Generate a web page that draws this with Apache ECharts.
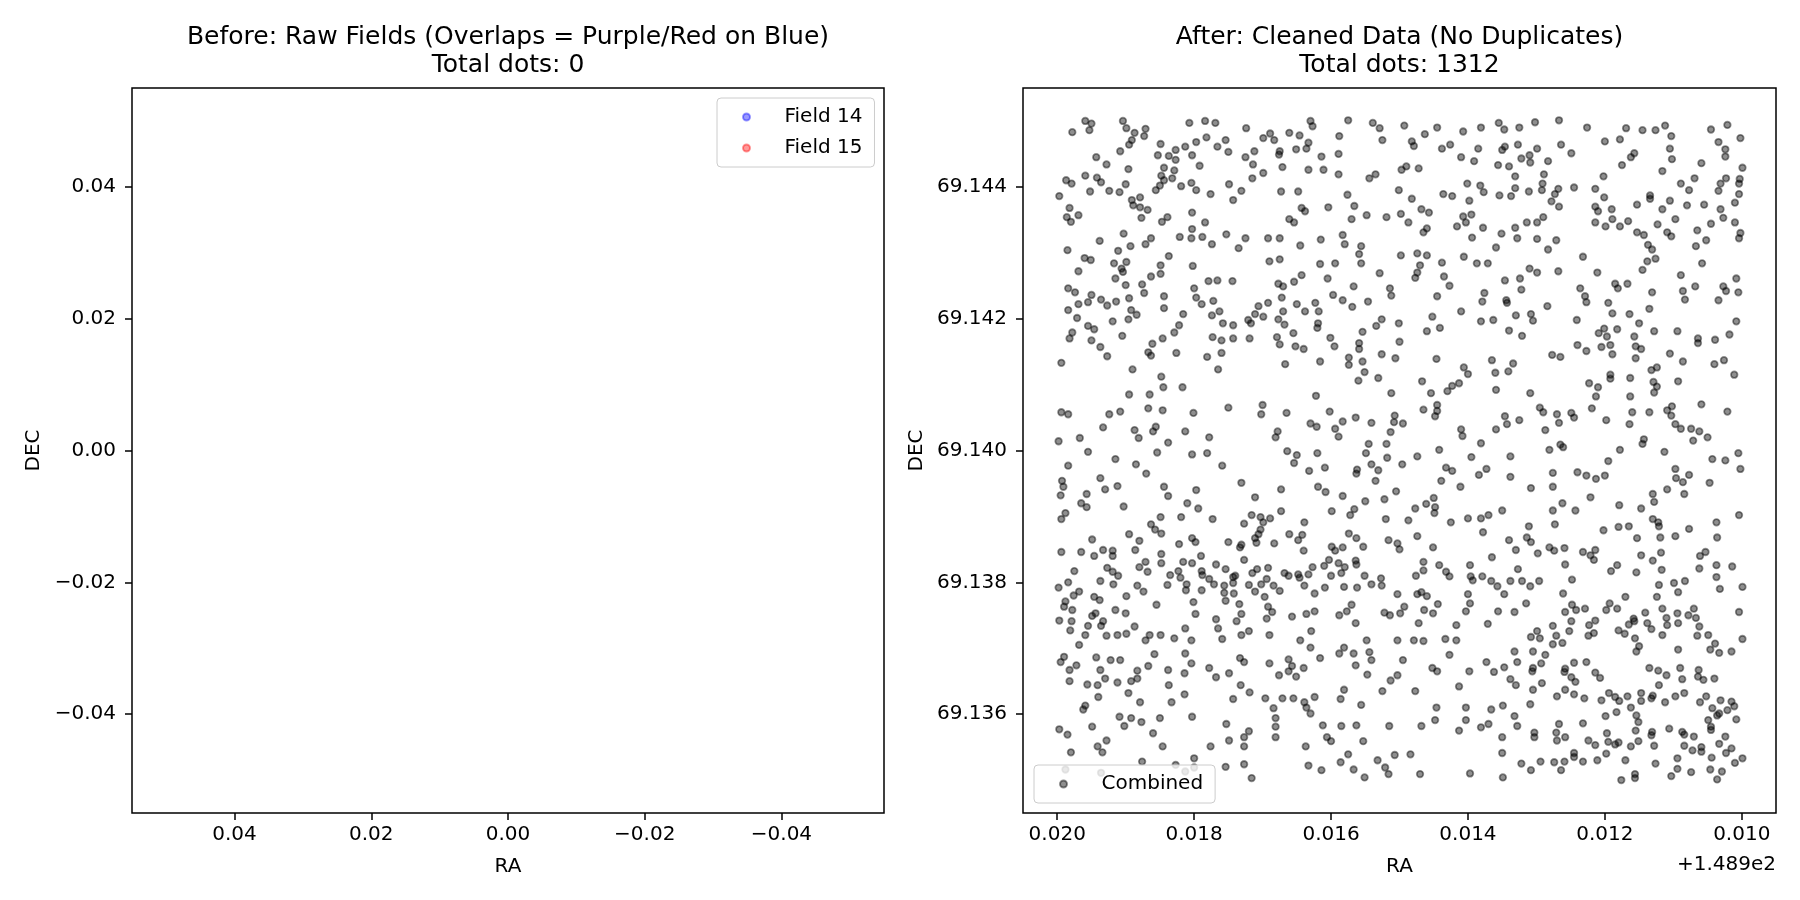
<!DOCTYPE html>
<html lang="en">
<head>
<meta charset="UTF-8">
<title>Raw fields vs cleaned data</title>
<script src="https://cdn.jsdelivr.net/npm/echarts@6/dist/echarts.min.js"></script>
<style>html,body{margin:0;padding:0;background:#fff;}</style>
</head>
<body>
<div id="main" style="width:1800px;height:900px;"></div>
<script>
// combined catalogue. flat pairs: ra, dec, ra, dec ...
// both given as offsets in units of 1e-5 deg from raZero / decZero
var raZero = 148.9, decZero = 69.135, unit = 1e-5;

var upperLeft = [
  1959,1000, 1950,996, 1953,986, 1978,983, 1904,1000, 1899,989, 1887,982, 1871,988, 1873,977, 1891,971, 1895,964, 1807,997,
  1784,1000, 1769,997, 1724,989, 1689,981, 1699,974, 1683,971, 1661,982, 1646,978, 1630,1000, 1627,992, 1575,1001, 1539,997,
  1529,989, 1525,971, 1588,977, 1633,967, 1636,958, 1651,957, 1675,954, 1676,949, 1712,954, 1725,945, 1714,934, 1699,921,
  1715,913, 1671,930, 1633,926, 1611,926, 1589,919, 1589,950, 1614,946, 1544,913, 1535,919,
  1908,954, 1849,965, 1853,948, 1837,947, 1827,956, 1827,941, 1813,961, 1797,968, 1782,975, 1766,961, 1754,971, 1750,953,
  1803,948, 1792,932, 1844,929, 1848,917, 1829,925, 1832,913, 1844,910, 1850,902, 1856,895, 1819,901, 1804,906, 1797,895,
  1776,889, 1749,904, 1731,894, 1743,880, 1896,927, 1943,945, 1928,934, 1959,917, 1942,914, 1936,907, 1987,910, 1979,905,
  1952,893, 1924,894, 1909,892, 1900,904, 1997,886,
  1891,880, 1879,884, 1889,872, 1879,869, 1868,865, 1877,853, 1982,868, 1986,854, 1980,847, 1969,857, 1847,847, 1839,854,
  1803,861, 1784,846, 1803,836, 1821,824, 1804,822, 1788,824, 1774,813, 1753,828, 1725,822, 1735,807, 1692,822, 1675,822,
  1673,893, 1648,893, 1643,868, 1638,863, 1661,851, 1654,846, 1604,869, 1576,888, 1566,871, 1570,851, 1548,857, 1519,854,
  1903,829, 1938,818, 1985,804, 1960,792, 1951,789, 1969,772, 1911,803, 1893,810, 1871,813, 1863,822, 1917,784, 1899,786,
  1906,776, 1904,771, 1915,761, 1900,751, 1849,781, 1849,768, 1863,764, 1837,795, 1802,780, 1690,787, 1675,790, 1645,811,
  1615,820, 1583,827, 1580,813, 1556,810, 1559,798, 1556,784, 1616,783, 1594,784, 1529,769,
  1984,746, 1974,740, 1950,736, 1955,725, 1969,722, 1936,729, 1927,720, 1914,726, 1895,731, 1876,752, 1873,739, 1844,734,
  1800,746, 1797,732, 1779,757, 1766,758, 1744,757, 1789,722, 1772,727, 1763,711, 1774,705, 1758,693, 1743,690, 1816,707,
  1822,690, 1829,679, 1844,716, 1892,713, 1884,706, 1896,699, 1919,696, 1971,701, 1984,713, 1955,689, 1946,684, 1978,679,
  1982,670, 1950,667, 1937,657, 1927,643, 1905,674, 1846,670, 1861,662, 1867,649, 1863,644, 1826,648, 1773,672, 1760,667,
  1743,670, 1719,670, 1760,648, 1781,642, 1765,623,
  1677,753, 1670,749, 1654,756, 1643,766, 1605,761, 1672,732, 1670,711, 1677,699, 1668,691, 1692,724, 1706,719, 1711,707,
  1699,703, 1721,698, 1717,693, 1650,722, 1638,711, 1623,724, 1618,711, 1619,693, 1620,686, 1655,678, 1679,672, 1675,661,
  1652,658, 1640,654, 1601,671, 1595,658, 1597,736, 1583,728, 1567,749, 1569,718, 1546,726, 1514,746, 1512,735, 1526,699,
  1534,689, 1554,680, 1559,663, 1559,654, 1526,646, 1554,635, 1551,619, 1560,606, 1531,610, 1574,641, 1574,630, 1506,640,
  1512,587,
  1994,633, 1890,623, 1848,612, 1845,596, 1817,596, 1895,585, 1865,585, 1667,631, 1616,635, 1622,583,
  1994,558, 1984,555, 1924,555, 1908,559, 1867,564, 1846,561, 1801,557, 1750,565, 1700,569, 1702,555, 1665,557, 1602,559,
  1583,544, 1564,550, 1541,542, 1507,553, 1508,543, 1513,528, 1594,533, 1589,521, 1630,541, 1621,536, 1678,529, 1681,520,
  1813,529, 1778,520, 1838,512, 1856,536, 1860,529, 1887,531, 1881,519, 1933,535, 1998,514, 1967,519, 1545,510, 1519,510
];

var upperRight = [
  1493,993, 1463,980, 1445,990, 1407,984, 1381,990, 1355,997, 1347,987, 1325,990, 1302,998, 1267,1001, 1226,990, 1169,989,
  1145,986, 1126,986, 1112,993, 1103,977, 1045,987, 1021,994, 1002,974, 1034,968, 1024,957, 1024,946, 999,929, 1059,936,
  1116,924, 1105,958, 1102,942, 1157,951, 1162,945, 1175,933, 1178,972, 1200,969, 1202,916,
  1482,969, 1479,962, 1438,958, 1426,964, 1385,958, 1410,945, 1391,939, 1350,956, 1346,961, 1327,964, 1299,958, 1310,948,
  1322,943, 1309,937, 1264,964, 1249,951, 1283,939, 1356,933, 1340,931, 1331,916, 1289,919, 1291,905, 1292,895, 1268,897,
  1273,889, 1278,878, 1267,870, 1245,899, 1214,897, 1201,884, 1214,870, 1210,863, 1190,866, 1214,846, 1199,840, 1189,851,
  1178,840, 1166,848, 1153,873, 1134,887, 1134,882, 1116,866, 1105,879, 1089,905, 1077,895, 1069,913, 1080,872, 1055,873,
  1034,894, 1031,905, 1023,913, 1004,905, 1003,912, 1004,889, 1010,876, 1031,866, 1027,853, 1045,844, 1097,851, 1123,843,
  1109,831, 1103,825, 1065,834, 1052,819, 1067,810, 1010,846, 1002,830, 1004,822,
  1497,926, 1490,931, 1472,928, 1501,895, 1482,882, 1468,866, 1457,861, 1498,859, 1487,846, 1460,837, 1465,831, 1436,889,
  1423,886, 1401,905, 1382,902, 1377,892, 1398,879, 1354,887, 1337,886, 1331,898, 1311,893, 1407,855, 1395,858, 1403,846,
  1416,840, 1378,838, 1394,823, 1351,829, 1331,838, 1328,822, 1314,846, 1299,846, 1290,854, 1299,821, 1271,819, 1283,805,
  1359,808,
  1498,796, 1474,799, 1460,796, 1470,781, 1474,770, 1477,762, 1438,785, 1435,764, 1427,750, 1445,734, 1406,794, 1387,784,
  1371,784, 1310,776, 1299,770, 1268,772, 1232,794, 1211,770, 1346,758, 1324,761, 1322,744, 1376,739, 1379,726, 1344,728,
  1343,724, 1410,711, 1452,703, 1460,681, 1441,686, 1501,693, 1500,665, 1381,696, 1363,698, 1340,682, 1321,674, 1330,705,
  1308,707, 1305,697, 1284,719, 1241,698, 1236,746, 1229,734, 1227,725, 1195,724, 1189,708, 1185,753, 1181,746, 1167,753,
  1145,774, 1138,787, 1126,791, 1131,805, 1137,812, 1153,831, 1143,827, 1164,707, 1150,693, 1135,715, 1131,740, 1128,681,
  1201,685, 1209,678, 1197,673, 1182,684, 1157,673, 1155,658, 1147,654, 1155,640, 1089,766, 1086,742, 1083,729, 1068,749,
  1058,784, 1034,728, 1027,749, 1023,742, 1008,761, 1005,740, 1008,696, 1018,676, 1039,668, 1064,670, 1064,663, 1094,681,
  1105,647, 1086,635, 1040,631, 1026,637, 1011,615,
  1446,639, 1406,626, 1400,616, 1365,637, 1360,618, 1341,620, 1334,632, 1359,592, 1413,602, 1423,598, 1430,590, 1454,587,
  1467,605, 1465,562, 1445,569, 1445,560, 1448,552, 1495,541, 1410,532, 1408,522, 1381,511, 1346,552, 1343,540, 1325,546,
  1359,532, 1309,587, 1295,565, 1290,558, 1270,555, 1267,542, 1249,557, 1245,550, 1219,564, 1198,546, 1287,531, 1265,509,
  1261,505, 1277,645, 1265,642, 1240,660, 1227,651, 1205,657, 1192,660, 1189,646, 1223,602, 1210,596, 1213,582, 1192,615,
  1192,609, 1163,610, 1163,582, 1160,558, 1135,558, 1164,540, 1132,622, 1124,626, 1129,604, 1124,597, 1128,588, 1093,605,
  1102,567, 1109,561, 1103,553, 1097,540, 1089,533, 1074,533, 1062,529, 1050,520, 1071,515, 1059,570, 1021,559, 1143,517,
  1145,510
];

var lowerLeft = [
  1955,498, 1915,487, 1885,479, 1854,497, 1803,494, 1781,496, 1759,477, 1870,465, 1984,477, 1993,454, 1991,445, 1995,432,
  1937,458, 1930,441, 1912,446, 1957,434, 1965,420, 1957,414, 1903,415, 1844,445, 1838,431, 1797,440, 1810,420, 1794,412,
  1731,451, 1711,429, 1673,441, 1664,499, 1650,493, 1654,481, 1632,469, 1620,496, 1609,474, 1619,445, 1608,437, 1583,431,
  1549,496, 1563,465, 1562,471, 1541,479, 1531,470, 1535,454, 1518,489, 1505,438, 1550,423, 1522,426, 1988,405, 1994,396,
  1819,399, 1849,399, 1863,388, 1857,380, 1848,374, 1773,396, 1727,389, 1716,402, 1703,399, 1689,397, 1699,391, 1703,380,
  1706,373, 1711,367, 1709,360, 1673,408, 1639,391, 1599,408, 1572,402, 1566,411, 1520,396, 1949,365, 1895,373, 1880,363,
  1822,358, 1803,367, 1798,361, 1750,361, 1731,357, 1733,353, 1683,359, 1661,373, 1648,364, 1642,372, 1640,348, 1599,354,
  1594,348, 1583,353, 1574,374, 1563,367, 1553,354, 1516,364, 1503,359,
  1994,346, 1965,346, 1946,340, 1933,349, 1919,348, 1919,340, 1886,349, 1848,343, 1848,329, 1790,340, 1727,334, 1871,331,
  1880,323, 1868,316, 1927,322, 1919,316, 1911,310, 1975,317, 1984,300, 1998,292, 1937,302, 1918,297, 1883,295, 1874,286,
  1839,296, 1835,311, 1823,317, 1820,307, 1816,331, 1803,329, 1811,297, 1812,288, 1789,317, 1788,311, 1778,305, 1789,288,
  1768,327, 1754,320, 1771,297, 1756,295, 1756,284, 1743,308, 1740,310, 1743,299, 1742,283, 1754,272, 1734,267, 1731,252,
  1738,241, 1715,314, 1708,320, 1692,322, 1694,305, 1702,297, 1711,286, 1720,296, 1684,295, 1675,287, 1697,278, 1692,263,
  1686,255, 1694,245, 1668,314, 1662,310, 1648,312, 1646,307, 1633,312, 1627,323, 1610,325, 1603,334, 1589,329, 1580,323,
  1564,333, 1563,327, 1585,314, 1600,310, 1551,310, 1541,297, 1527,306, 1526,295, 1562,292, 1581,293, 1609,292, 1624,283,
  1639,295,
  1976,280, 1988,271, 1990,263, 1978,258, 1968,286, 1946,278, 1938,273, 1899,279, 1855,266, 1801,270, 1798,252, 1768,244,
  1765,230, 1759,214, 1900,253, 1915,258, 1949,249, 1944,253, 1933,241, 1936,234, 1979,241, 1997,242, 1981,227, 1955,234,
  1959,220, 1928,219, 1912,220, 1899,222, 1887,233, 1865,220, 1871,212, 1849,220, 1829,215, 1813,230, 1804,212, 1731,220,
  1720,226, 1690,220, 1657,248, 1636,252, 1624,256, 1629,226, 1645,212, 1630,201, 1616,185, 1588,250, 1577,256, 1570,266,
  1564,238, 1522,254, 1514,250, 1503,282, 1503,212, 1588,192, 1581,201, 1567,192, 1564,174, 1548,212, 1544,194, 1541,182,
  1547,160, 1503,159, 1513,151, 1525,135, 1556,114, 1581,137, 1586,123, 1624,126, 1639,118, 1636,110, 1630,101, 1655,124,
  1671,124, 1696,124, 1684,109, 1681,94, 1681,81, 1681,65, 1676,159, 1662,165, 1662,183, 1657,173, 1651,157, 1640,170,
  1690,177, 1733,185, 1727,179, 1768,156, 1778,170, 1749,162, 1732,144, 1719,133, 1743,123,
  1968,205, 1990,187, 1995,179, 1972,174, 1982,167, 1982,150, 1943,186, 1922,182, 1908,182, 1937,167, 1930,154, 1912,148,
  1956,145, 1941,144, 1940,126, 1959,113, 1962,107, 1896,132, 1892,150, 1883,154, 1883,166, 1867,173, 1858,191, 1838,167,
  1837,144, 1814,162, 1813,192, 1804,177, 1833,118, 1814,130, 1879,118, 1892,94, 1902,82, 1909,96, 1877,88, 1850,94,
  1803,96, 1860,71, 1846,51, 1800,33, 1997,77, 1985,69, 1949,81, 1928,60, 1941,51, 1934,42, 1980,42, 1876,28,
  1753,85, 1749,60, 1727,65, 1720,74, 1727,51, 1754,20, 1727,24, 1716,3, 1776,51, 1612,83, 1585,82, 1563,83,
  1515,82, 1606,65, 1600,59, 1553,59, 1637,51, 1575,39, 1586,27, 1567,16, 1551,4, 1532,30, 1521,19, 1516,9,
  1507,38, 1633,22, 1614,15, 1988,16, 1936,11, 1827,23, 1813,13, 1800,19
];

var lowerRight = [
  1496,479, 1474,491, 1442,501, 1395,490, 1338,491, 1281,501, 1195,484, 1178,501, 1113,498, 1043,487, 1024,485, 1005,496,
  1002,472, 1047,451, 1097,472, 1096,458, 1086,452, 1077,463, 1084,434, 1109,441, 1130,434, 1128,422, 1147,412, 1130,396,
  1122,391, 1121,385, 1119,368, 1153,367, 1165,385, 1180,384, 1202,379, 1179,417, 1221,429, 1243,409, 1276,409, 1262,420,
  1273,388, 1276,445, 1276,466, 1240,467, 1227,462, 1213,457, 1200,462, 1308,443, 1338,460, 1373,472, 1384,463, 1432,474,
  1423,469, 1439,454, 1411,445, 1450,428, 1448,414, 1449,405, 1461,419, 1477,412, 1487,394, 1425,391, 1400,397, 1381,397,
  1370,402, 1350,409, 1378,376, 1474,370, 1500,350, 1451,353, 1004,402, 1037,391, 1036,368, 1077,381, 1097,370,
  1311,385, 1314,368, 1308,361, 1340,364, 1330,349, 1298,344, 1281,353, 1274,348, 1259,352, 1232,346, 1221,341, 1214,349,
  1216,334, 1258,327, 1365,338, 1397,326, 1465,331, 1465,318, 1476,310, 1442,326, 1432,316, 1427,309, 1396,309, 1393,303,
  1379,309, 1366,302, 1357,294, 1347,282, 1338,302, 1321,302, 1309,294, 1296,302, 1327,320, 1248,304, 1261,283, 1315,268,
  1332,255, 1356,256, 1371,237, 1403,256, 1397,268, 1400,282, 1444,267, 1451,253, 1464,258, 1472,238, 1474,282, 1468,285,
  1460,279, 1493,263, 1499,253, 1479,212, 1465,211, 1433,214, 1417,212, 1417,235, 1427,190, 1495,182, 1452,170, 1445,165,
  1398,165, 1373,179, 1362,164, 1347,171, 1328,179, 1338,153, 1330,144, 1305,170, 1306,165, 1293,177, 1287,190, 1305,195,
  1332,195, 1477,135, 1413,142, 1446,110, 1448,91, 1468,82, 1413,75, 1403,110, 1403,91, 1381,80, 1370,85, 1366,107,
  1349,113, 1332,97, 1328,82, 1350,65, 1350,41, 1309,115, 1305,137, 1292,147, 1270,127, 1258,137, 1245,130, 1230,124,
  1484,39, 1470,9, 1397,10, 1349,4,
  1191,317, 1182,326, 1147,341, 1154,315, 1130,333, 1118,345, 1117,319, 1248,266, 1258,255, 1242,258, 1229,260, 1249,241,
  1252,226, 1214,242, 1223,235, 1224,219, 1216,223, 1198,258, 1193,268, 1182,260, 1170,278, 1158,245, 1157,241, 1165,236,
  1180,227, 1171,222, 1156,215, 1150,203, 1154,195, 1141,254, 1138,238, 1132,229, 1116,220, 1124,278, 1121,296, 1116,260,
  1110,246, 1109,235, 1099,299, 1093,285, 1083,302, 1094,253, 1093,238, 1078,250, 1070,260, 1067,246, 1062,233, 1065,219,
  1049,220, 1039,207, 1046,198, 1033,193, 1015,195, 999,214, 1004,255, 999,293, 1032,290, 1037,308, 1037,326, 1062,321,
  1061,340, 1053,346, 1014,324, 1093,198,
  1308,217, 1299,226, 1295,215, 1276,206, 1262,208, 1276,234, 1271,219, 1258,169, 1259,164, 1245,178, 1227,179, 1214,163,
  1207,155, 1249,156, 1243,149, 1205,121, 1194,132, 1185,126, 1179,120, 1183,103, 1167,127, 1162,110, 1154,98, 1151,88,
  1155,75, 1147,120, 1147,132, 1135,170, 1122,166, 1110,159, 1121,144, 1132,124, 1130,128, 1112,118, 1090,170, 1087,153,
  1097,127, 1084,132, 1063,167, 1064,157, 1056,152, 1040,154, 1052,127, 1061,118, 1031,121, 1015,119, 1011,112, 1021,106,
  1043,109, 1036,98, 1033,101, 1049,91, 1045,81, 1045,76, 1008,92, 1024,66, 1033,55, 1015,48, 1023,41, 999,33,
  1010,26, 1044,34, 1059,50, 1059,43, 1072,45, 1084,52, 1070,66, 1087,73, 1084,69, 1094,33, 1094,17, 1103,6,
  1074,12, 1046,16, 1029,13, 1036,1, 1106,78, 1126,25, 1128,52, 1131,73, 1132,68, 1151,59, 1162,51, 1170,30,
  1156,9, 1156,3, 1176,0, 1198,40, 1197,71, 1195,58, 1185,54, 1180,57, 1199,97, 1214,53, 1224,60, 1211,30,
  1232,28, 1245,41, 1245,35, 1259,28, 1274,27, 1264,15, 1294,28, 1308,15, 1322,25, 1303,72, 1303,65, 1271,72,
  1270,60, 1258,65, 1267,85, 1232,86
];

// the raw fields panel is empty in the source figure
var field14 = [];
var field15 = [];

var beforeTicks = [-0.04, -0.02, 0, 0.02, 0.04];
var raTicks = [148.910, 148.912, 148.914, 148.916, 148.918, 148.920];
var decTicks = [69.136, 69.138, 69.140, 69.142, 69.144];

var titles = [
  ['Before: Raw Fields (Overlaps = Purple/Red on Blue)', 'Total dots: 0'],
  ['After: Cleaned Data (No Duplicates)', 'Total dots: 1312']
];

function toPoints(flat) {
  var out = [];
  for (var i = 0; i < flat.length; i += 2) {
    out.push([+(raZero + flat[i] * unit).toFixed(5), +(decZero + flat[i + 1] * unit).toFixed(5)]);
  }
  return out;
}

var combined = [].concat(toPoints(upperLeft), toPoints(upperRight), toPoints(lowerLeft), toPoints(lowerRight));

var font = 'DejaVu Sans';
var minus = '\u2212';

function tickStyle(values) {
  return {
    customValues: values,
    length: 7,
    lineStyle: {color: '#000', width: 1.5}
  };
}

function labelStyle(values, fmt, margin) {
  return {
    customValues: values,
    formatter: fmt,
    margin: margin,
    fontSize: 20,
    color: '#000',
    fontFamily: font
  };
}

function fmtSmall(v) {
  return (v < 0 ? minus : '') + Math.abs(v).toFixed(2);
}

var nameStyle = {fontSize: 20, color: '#000', fontFamily: font};
var hiddenLine = {show: false, onZero: false};

var grids = [
  {left: 132, top: 88, width: 752, height: 725},
  {left: 1023, top: 88, width: 753, height: 725}
];
grids.forEach(function (g) {
  g.show = true;
  g.borderColor = '#000';
  g.borderWidth = 1.5;
  g.backgroundColor = '#fff';
  g.containLabel = false;
});

var legendBase = {
  orient: 'vertical',
  backgroundColor: 'rgba(255,255,255,0.8)',
  borderColor: '#cccccc',
  borderWidth: 1,
  borderRadius: 4,
  padding: [9, 12, 9, 25],
  itemWidth: 58,
  itemHeight: 7,
  itemGap: 11,
  selectedMode: false,
  textStyle: {fontSize: 20, color: '#000', fontFamily: font, padding: [0, 0, 0, 4]}
};

var chart = echarts.init(document.getElementById('main'));

var graphics = [];
titles.forEach(function (t, i) {
  var g = grids[i];
  var cx = g.left + g.width / 2;
  t.forEach(function (line, j) {
    graphics.push({
      type: 'text',
      x: cx,
      y: 37 + j * 28,
      style: {text: line, fontSize: 25, fontFamily: font, fill: '#000', align: 'center', verticalAlign: 'middle'}
    });
  });
});
graphics.push({
  type: 'text',
  x: 1776,
  y: 865,
  style: {text: '+1.489e2', fontSize: 20, fontFamily: font, fill: '#000', align: 'right', verticalAlign: 'middle'}
});

chart.setOption({
  animation: false,
  textStyle: {fontFamily: font},
  grid: grids,
  xAxis: [
    {
      gridIndex: 0, type: 'value', min: -0.055, max: 0.055, inverse: true,
      name: 'RA', nameLocation: 'middle', nameGap: 44, nameTextStyle: nameStyle,
      axisLine: hiddenLine, splitLine: {show: false},
      axisTick: tickStyle(beforeTicks),
      axisLabel: labelStyle(beforeTicks, fmtSmall, 12)
    },
    {
      gridIndex: 1, type: 'value', min: 148.9095, max: 148.9205, inverse: true,
      name: 'RA', nameLocation: 'middle', nameGap: 44, nameTextStyle: nameStyle,
      axisLine: hiddenLine, splitLine: {show: false},
      axisTick: tickStyle(raTicks),
      axisLabel: labelStyle(raTicks, function (v) { return (v - raZero).toFixed(3); }, 12)
    }
  ],
  yAxis: [
    {
      gridIndex: 0, type: 'value', min: -0.055, max: 0.055,
      name: 'DEC', nameLocation: 'middle', nameGap: 88, nameTextStyle: nameStyle,
      axisLine: hiddenLine, splitLine: {show: false},
      axisTick: tickStyle(beforeTicks),
      axisLabel: labelStyle(beforeTicks, fmtSmall, 16)
    },
    {
      gridIndex: 1, type: 'value', min: 69.1345, max: 69.1455,
      name: 'DEC', nameLocation: 'middle', nameGap: 96, nameTextStyle: nameStyle,
      axisLine: hiddenLine, splitLine: {show: false},
      axisTick: tickStyle(decTicks),
      axisLabel: labelStyle(decTicks, function (v) { return v.toFixed(3); }, 16)
    }
  ],
  legend: [
    Object.assign({}, legendBase, {data: ['Field 14', 'Field 15'], left: 717, top: 98}),
    Object.assign({}, legendBase, {data: ['Combined'], left: 1034, top: 765})
  ],
  graphic: graphics,
  series: [
    {
      name: 'Field 14', type: 'scatter', xAxisIndex: 0, yAxisIndex: 0, data: field14,
      symbolSize: 6.5,
      itemStyle: {color: 'rgba(0,0,255,0.5)', borderColor: 'rgba(0,0,255,0.5)', borderWidth: 1.8}
    },
    {
      name: 'Field 15', type: 'scatter', xAxisIndex: 0, yAxisIndex: 0, data: field15,
      symbolSize: 6.5,
      itemStyle: {color: 'rgba(255,0,0,0.5)', borderColor: 'rgba(255,0,0,0.5)', borderWidth: 1.8}
    },
    {
      name: 'Combined', type: 'scatter', xAxisIndex: 1, yAxisIndex: 1, data: combined,
      symbolSize: 6.5, progressive: 0, large: false,
      itemStyle: {color: 'rgba(0,0,0,0.55)', borderColor: 'rgba(0,0,0,0.55)', borderWidth: 1.8},
      emphasis: {disabled: true}
    }
  ]
});
</script>
</body>
</html>
